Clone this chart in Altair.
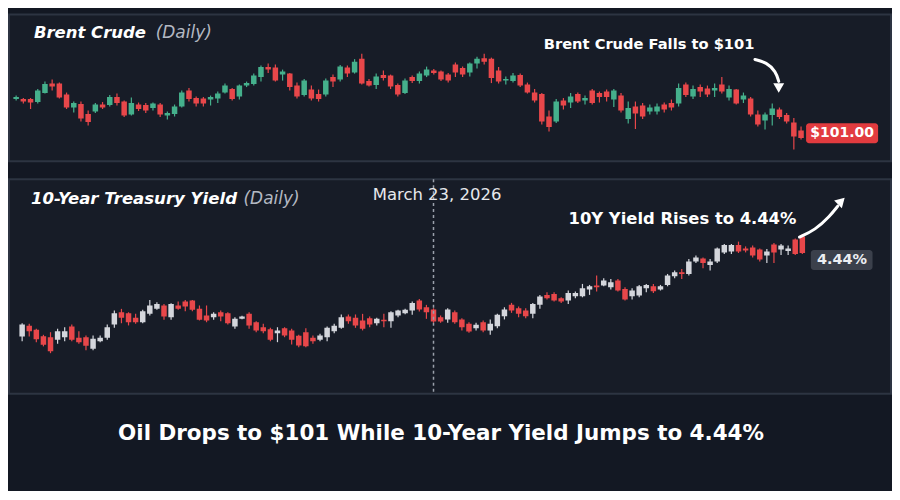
import altair as alt
import pandas as pd

# ---------------- Brent Crude (daily OHLC, USD) ----------------
brent_open = [108.8,108.8,108.8,108.2,110.0,111.9,111.9,109.7,107.1,107.8,105.8,106.3,107.7,107.6,109.2,108.3,105.7,107.7,107.6,107.0,
              107.7,105.5,105.8,107.3,110.5,109.0,108.9,108.7,108.9,110.1,110.8,109.3,111.5,111.8,113.2,115.2,115.1,113.7,113.9,111.5,
              109.6,110.7,109.8,109.7,113.2,112.7,115.1,114.1,116.9,112.4,111.6,113.6,113.5,111.6,110.0,113.2,112.4,113.5,114.5,114.3,
              113.7,115.7,115.0,114.1,115.9,117.0,116.9,114.5,112.5,112.4,113.6,111.7,110.1,109.8,105.3,104.3,108.5,108.1,109.8,108.5,
              110.5,110.0,110.3,108.7,109.5,104.8,107.3,107.5,106.3,106.3,107.7,108.0,107.9,111.7,109.3,111.2,110.9,110.5,111.7,109.1,
              110.7,108.7,108.9,105.7,104.5,105.6,106.7,105.6,104.1,102.5]
brent_high = [109.5,109.0,109.0,110.8,112.3,112.7,112.1,110.1,108.3,108.3,106.5,108.0,108.2,109.6,109.9,108.5,109.1,108.1,108.0,108.1,
              108.0,106.3,107.7,110.5,111.0,109.3,109.2,109.5,110.3,111.9,111.0,111.7,112.3,113.9,115.5,115.9,115.7,114.7,114.0,112.1,
              112.8,111.5,110.7,112.9,113.7,115.6,115.5,116.8,117.9,112.8,113.9,114.5,113.7,111.9,112.9,113.5,114.3,115.3,114.8,114.5,
              114.0,116.1,115.3,116.1,117.3,117.9,117.1,115.2,113.3,114.0,113.9,112.1,110.8,110.0,106.5,108.8,109.0,110.0,110.1,109.5,
              110.8,110.3,110.7,110.8,110.0,108.3,108.3,108.0,107.7,107.9,108.1,108.7,111.9,112.1,111.5,111.7,111.5,111.9,113.2,111.5,
              110.8,110.1,109.2,106.5,106.1,107.9,107.1,106.0,105.0,103.3]
brent_low = [108.5,107.9,106.8,107.9,109.9,110.5,108.9,106.8,106.1,104.3,103.5,106.0,106.8,107.3,107.5,105.2,105.5,106.4,106.0,106.5,
             105.2,104.7,105.3,107.1,108.3,107.3,107.3,107.5,108.0,109.9,108.5,108.7,111.2,111.5,112.3,114.0,112.3,112.5,110.5,108.9,
             109.3,108.5,108.3,109.3,111.2,112.3,113.2,113.9,111.7,111.3,110.8,112.5,110.8,109.3,109.8,112.0,111.9,113.2,113.7,112.4,
             112.1,113.2,113.2,113.3,114.9,115.7,112.0,111.9,111.7,112.1,111.2,109.9,108.1,103.7,102.3,104.0,106.7,107.0,108.0,107.7,
             107.7,108.1,108.3,107.2,106.1,103.9,102.8,104.8,105.7,105.7,106.1,106.5,107.3,109.2,108.8,109.2,109.2,109.2,109.9,108.5,
             107.7,108.0,105.3,103.3,102.7,103.5,104.8,103.9,98.7,100.7]
brent_close = [109.2,108.3,108.1,110.5,111.8,111.3,109.1,107.1,108.0,104.9,104.2,107.7,107.1,109.2,108.0,105.5,108.0,106.8,106.5,107.9,
               105.7,106.0,107.3,110.1,108.8,107.9,107.9,109.2,109.9,111.5,108.8,111.5,112.0,113.5,115.2,114.7,112.5,114.3,111.2,109.3,
               112.5,108.9,108.8,112.5,112.3,115.3,113.9,116.3,111.9,111.5,113.3,113.0,111.3,109.7,112.5,112.4,113.9,114.7,114.0,112.7,
               112.5,114.1,113.7,115.9,116.9,116.3,113.0,112.3,112.8,113.5,111.5,110.1,108.5,104.3,103.2,108.3,107.5,109.3,108.3,109.0,
               108.0,109.2,109.2,110.5,106.5,107.0,105.9,105.3,107.1,107.3,106.7,107.1,111.0,109.6,110.8,110.3,109.7,111.0,110.3,110.8,
               107.9,109.5,105.7,103.7,105.7,106.9,105.2,104.3,101.3,101.0]

# ---------------- 10-Year Treasury Yield (daily OHLC, %) ----------------
yield_open = [4.022,4.075,4.055,4.023,4.018,4.005,4.018,4.072,4.015,4.018,3.960,3.998,4.015,4.082,4.143,4.138,4.115,4.093,4.135,4.160,
              4.177,4.118,4.177,4.197,4.202,4.160,4.127,4.118,4.143,4.138,4.072,4.110,4.135,4.093,4.068,4.058,4.038,4.063,4.052,4.025,
              4.043,4.015,4.005,4.018,4.048,4.065,4.122,4.115,4.102,4.113,4.088,4.105,4.098,4.127,4.138,4.152,4.202,4.168,4.157,4.118,
              4.107,4.143,4.107,4.085,4.063,4.093,4.052,4.073,4.123,4.180,4.163,4.152,4.135,4.180,4.230,4.235,4.213,4.202,4.223,4.223,
              4.257,4.277,4.277,4.268,4.302,4.260,4.223,4.227,4.263,4.273,4.257,4.280,4.323,4.343,4.335,4.397,4.413,4.380,4.397,4.443,
              4.447,4.480,4.463,4.468,4.457,4.427,4.483,4.457,4.450,4.507,4.523]
yield_high = [4.088,4.085,4.060,4.030,4.043,4.060,4.068,4.082,4.048,4.027,4.027,4.027,4.082,4.152,4.160,4.143,4.135,4.155,4.205,4.193,
              4.185,4.188,4.197,4.205,4.205,4.177,4.177,4.143,4.152,4.143,4.118,4.125,4.143,4.098,4.085,4.065,4.068,4.068,4.060,4.030,
              4.063,4.027,4.035,4.072,4.085,4.132,4.132,4.132,4.135,4.122,4.115,4.135,4.148,4.155,4.160,4.197,4.210,4.180,4.163,4.127,
              4.163,4.152,4.113,4.093,4.090,4.102,4.107,4.135,4.168,4.190,4.172,4.163,4.190,4.230,4.243,4.243,4.218,4.252,4.247,4.285,
              4.280,4.327,4.313,4.310,4.310,4.268,4.263,4.280,4.285,4.285,4.280,4.335,4.352,4.360,4.410,4.427,4.418,4.410,4.468,4.485,
              4.485,4.497,4.473,4.477,4.463,4.460,4.490,4.485,4.477,4.513,4.535]
yield_low = [3.998,4.022,3.993,3.972,3.938,3.985,3.998,3.998,3.985,3.952,3.952,3.993,4.005,4.065,4.088,4.077,4.085,4.088,4.127,4.155,
             4.105,4.105,4.155,4.148,4.148,4.102,4.093,4.105,4.098,4.082,4.060,4.108,4.060,4.043,4.038,3.998,3.993,4.018,3.982,3.968,
             3.968,3.985,3.998,3.998,4.038,4.060,4.085,4.065,4.052,4.068,4.077,4.068,4.065,4.118,4.133,4.130,4.147,4.110,4.090,4.090,
             4.090,4.085,4.052,4.040,4.052,4.043,4.030,4.063,4.107,4.140,4.118,4.113,4.113,4.160,4.207,4.197,4.190,4.185,4.213,4.218,
             4.230,4.247,4.273,4.257,4.247,4.202,4.207,4.218,4.243,4.240,4.252,4.273,4.313,4.310,4.327,4.390,4.363,4.352,4.390,4.435,
             4.435,4.440,4.443,4.418,4.397,4.390,4.390,4.430,4.430,4.430,4.435]
yield_close = [4.082,4.048,4.008,3.980,3.948,4.048,4.048,4.005,3.993,3.975,4.010,4.015,4.068,4.138,4.115,4.093,4.093,4.148,4.177,4.185,
               4.122,4.185,4.160,4.172,4.155,4.105,4.102,4.135,4.122,4.088,4.110,4.122,4.077,4.052,4.048,4.005,4.052,4.027,4.005,3.977,
               3.973,3.998,4.027,4.065,4.075,4.118,4.098,4.077,4.060,4.082,4.110,4.098,4.143,4.152,4.155,4.190,4.157,4.143,4.097,4.097,
               4.157,4.093,4.068,4.047,4.080,4.052,4.085,4.130,4.157,4.152,4.135,4.123,4.185,4.222,4.213,4.202,4.197,4.240,4.240,4.263,
               4.273,4.268,4.302,4.293,4.252,4.207,4.252,4.273,4.280,4.248,4.273,4.327,4.343,4.335,4.397,4.418,4.390,4.397,4.463,4.480,
               4.480,4.447,4.452,4.427,4.407,4.447,4.443,4.477,4.463,4.435,4.440]

marker_day = 58  # March 23, 2026 in the yield series

FONT = "DejaVu Sans"
BG = "#131823"
PANEL = "#171c27"
GRID = "#242b39"

brent = pd.DataFrame({"i": range(len(brent_open)), "open": brent_open, "high": brent_high,
                      "low": brent_low, "close": brent_close})
yld = pd.DataFrame({"i": range(len(yield_open)), "open": yield_open, "high": yield_high,
                    "low": yield_low, "close": yield_close})


def panel(df, xdom, ydom, xgrid, ygrid, up, down, bar_w):
    xscale = alt.Scale(domain=xdom, nice=False, zero=False)
    yscale = alt.Scale(domain=ydom, nice=False, zero=False)
    xenc = alt.X("i:Q", scale=xscale,
                 axis=alt.Axis(values=xgrid, labels=False, ticks=False, domain=False, grid=True,
                               gridColor=GRID, gridWidth=1, title=None))
    yaxis = alt.Axis(values=ygrid, labels=False, ticks=False, domain=False, grid=True,
                     gridColor=GRID, gridWidth=1, title=None)
    col = alt.condition("datum.close >= datum.open", alt.value(up), alt.value(down))
    base = alt.Chart(df)
    wick = base.mark_rule(strokeWidth=1.2).encode(
        x=xenc, y=alt.Y("low:Q", scale=yscale, axis=yaxis), y2="high:Q", color=col)
    body = base.mark_bar(size=bar_w, clip=True).encode(
        x=xenc, y=alt.Y("open:Q", scale=yscale, axis=yaxis), y2="close:Q", color=col)
    return wick, body, xscale, yscale


def px(field, sc):
    return alt.X(field, scale=sc, axis=None)


def py(field, sc):
    return alt.Y(field, scale=sc, axis=None)


# ---------------- top panel ----------------
TW, TH = 884, 147
t_wick, t_body, txs, tys = panel(
    brent, [-0.3, 120.8], [96.34, 125.74],
    [7.6, 24.5, 40.6, 58.3, 77.5, 98.0, 112.1], [102.0, 107.2, 112.6, 118.0],
    "#45b08c", "#e8474a", 5.5)

t_title1 = alt.Chart(pd.DataFrame({"t": ["Brent Crude"]})).mark_text(
    font=FONT, fontSize=16.5, fontWeight="bold", fontStyle="italic", color="#ffffff",
    align="left", baseline="middle").encode(x=alt.value(25), y=alt.value(19), text="t:N")
t_title2 = alt.Chart(pd.DataFrame({"t": ["(Daily)"]})).mark_text(
    font=FONT, fontSize=17, fontStyle="italic", color="#b3b8c2",
    align="left", baseline="middle").encode(x=alt.value(147), y=alt.value(19), text="t:N")

t_note = alt.Chart(pd.DataFrame({"i": [87.9], "v": [119.54], "t": ["Brent Crude Falls to $101"]})).mark_text(
    font=FONT, fontSize=14.7, fontWeight="bold", color="#ffffff").encode(
    x=px("i:Q", txs), y=py("v:Q", tys), text="t:N")

t_arrow = alt.Chart(pd.DataFrame({"i": [102.6, 104.2, 105.5, 105.9],
                                  "v": [116.74, 116.14, 114.34, 112.34],
                                  "o": [0, 1, 2, 3]})).mark_line(
    color="#ffffff", strokeWidth=3, interpolate="basis", strokeCap="round").encode(
    x=px("i:Q", txs), y=py("v:Q", tys), order="o:Q")
t_head = alt.Chart(pd.DataFrame({"i": [105.9], "v": [111.0]})).mark_point(
    shape="triangle-down", filled=True, size=120, color="#ffffff", opacity=1).encode(
    x=px("i:Q", txs), y=py("v:Q", tys))

t_box = alt.Chart(pd.DataFrame({"a": [109.7], "b": [119.7], "lo": [99.94], "hi": [103.94]})).mark_rect(
    color="#e23b3f", cornerRadius=3).encode(
    x=px("a:Q", txs), x2="b:Q", y=py("lo:Q", tys), y2="hi:Q")
t_lab = alt.Chart(pd.DataFrame({"i": [114.7], "v": [101.94], "t": ["$101.00"]})).mark_text(
    font=FONT, fontSize=14, fontWeight="bold", color="#ffffff").encode(
    x=px("i:Q", txs), y=py("v:Q", tys), text="t:N")

top = alt.layer(t_wick, t_body, t_title1, t_title2, t_note, t_arrow, t_head, t_box, t_lab).properties(
    width=TW, height=TH,
    view=alt.ViewBackground(fill=PANEL, stroke="#2d3442", strokeWidth=2))

# ---------------- bottom panel ----------------
BW, BH = 884, 215
b_wick, b_body, bxs, bys = panel(
    yld, [-1.15, 121.8], [3.735, 4.81],
    [6.5, 24.0, 40.6, 76.0, 98.9, 113.2], [3.85, 3.95, 4.225, 4.345, 4.635, 4.745],
    "#d4d6dc", "#e8474a", 5.5)

b_title1 = alt.Chart(pd.DataFrame({"t": ["10-Year Treasury Yield"]})).mark_text(
    font=FONT, fontSize=16.6, fontWeight="bold", fontStyle="italic", color="#ffffff",
    align="left", baseline="middle").encode(x=alt.value(22), y=alt.value(20), text="t:N")
b_title2 = alt.Chart(pd.DataFrame({"t": ["(Daily)"]})).mark_text(
    font=FONT, fontSize=17, fontStyle="italic", color="#b3b8c2",
    align="left", baseline="middle").encode(x=alt.value(235), y=alt.value(20), text="t:N")

b_rule = alt.Chart(pd.DataFrame({"i": [marker_day]})).mark_rule(
    color="#9aa0ab", strokeWidth=1.5, strokeDash=[3, 3]).encode(x=px("i:Q", bxs))
b_date = alt.Chart(pd.DataFrame({"i": [58.5], "v": [4.73], "t": ["March 23, 2026"]})).mark_text(
    font=FONT, fontSize=16.5, color="#e6e8ec").encode(
    x=px("i:Q", bxs), y=py("v:Q", bys), text="t:N")

b_note = alt.Chart(pd.DataFrame({"i": [93.1], "v": [4.61], "t": ["10Y Yield Rises to 4.44%"]})).mark_text(
    font=FONT, fontSize=16.4, fontWeight="bold", color="#ffffff").encode(
    x=px("i:Q", bxs), y=py("v:Q", bys), text="t:N")

b_arrow = alt.Chart(pd.DataFrame({"i": [109.6, 111.8, 113.9, 115.0],
                                  "v": [4.52, 4.555, 4.625, 4.675],
                                  "o": [0, 1, 2, 3]})).mark_line(
    color="#ffffff", strokeWidth=3, interpolate="basis", strokeCap="round").encode(
    x=px("i:Q", bxs), y=py("v:Q", bys), order="o:Q")
b_head = alt.Chart(pd.DataFrame({"i": [115.5], "v": [4.70]})).mark_point(
    shape="triangle-up", filled=True, size=120, color="#ffffff", opacity=1, angle=45).encode(
    x=px("i:Q", bxs), y=py("v:Q", bys))

b_box = alt.Chart(pd.DataFrame({"a": [111.2], "b": [119.9], "lo": [4.355], "hi": [4.455]})).mark_rect(
    color="#3b404b", cornerRadius=3).encode(
    x=px("a:Q", bxs), x2="b:Q", y=py("lo:Q", bys), y2="hi:Q")
b_lab = alt.Chart(pd.DataFrame({"i": [115.6], "v": [4.405], "t": ["4.44%"]})).mark_text(
    font=FONT, fontSize=14.5, fontWeight="bold", color="#eceef2").encode(
    x=px("i:Q", bxs), y=py("v:Q", bys), text="t:N")

bottom = alt.layer(b_wick, b_body, b_rule, b_title1, b_title2, b_date, b_note, b_arrow, b_head,
                   b_box, b_lab).properties(
    width=BW, height=BH,
    view=alt.ViewBackground(fill=PANEL, stroke="#2d3442", strokeWidth=2))

chart = alt.vconcat(top, bottom, spacing=15).properties(
    title=alt.TitleParams("Oil Drops to $101 While 10-Year Yield Jumps to 4.44%", orient="bottom",
                          anchor="middle", font=FONT, fontSize=21.5, fontWeight="bold", color="#ffffff",
                          offset=28, dx=-9),
    padding={"left": 0, "top": 5, "right": 0, "bottom": 45},
    background=BG,
)

chart.save("out.html", embed_options={"renderer": "svg", "actions": False})
